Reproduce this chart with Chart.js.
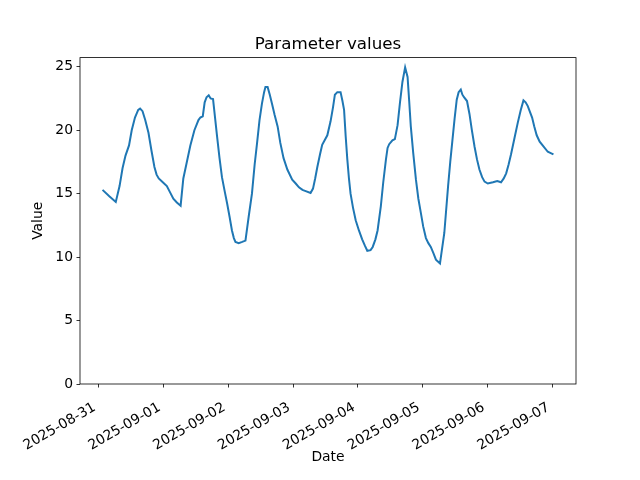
<!DOCTYPE html>
<html>
<head>
<meta charset="utf-8">
<script src="https://cdn.jsdelivr.net/npm/chart.js@4"></script>
<style>
  body { margin: 0; background: #fff; }
  canvas { display: block; }
</style>
</head>
<body>
<canvas id="chart" width="640" height="480"></canvas>
<script>
// hours since 2025-08-31 00:00
const hours = [
  1.5, 4.0, 6.4, 7.8, 8.9, 10.0, 11.3, 12.3, 13.5, 14.7, 15.4, 16.3, 17.3, 18.5, 19.6, 20.7,
  21.5, 22.3, 23.8, 25.3, 26.5, 27.7, 29.0, 30.4, 31.4, 32.7, 34.0, 35.5, 37.0, 37.7, 38.6, 39.3,
  40.0, 40.8, 41.5, 42.4, 43.9, 44.8, 45.7, 46.7, 47.6, 48.5, 49.4, 50.1, 50.7, 51.9, 53.2, 54.4,
  55.6, 56.8, 57.8, 58.7, 59.6, 60.5, 61.3, 61.8, 62.6, 63.4, 64.2, 65.2, 66.3, 67.3, 68.5, 69.9,
  71.7, 73.0, 74.2, 75.5, 76.7, 78.5, 79.4, 80.2, 81.0, 82.0, 82.8, 84.7, 85.9, 86.8, 87.5, 88.4,
  89.6, 90.3, 90.9, 91.5, 92.1, 92.7, 93.3, 94.2, 95.2, 96.4, 97.6, 98.6, 99.5, 100.7, 101.5, 102.5,
  103.3, 104.5, 105.4, 106.4, 107.0, 107.6, 108.8, 109.7, 110.7, 111.6, 112.5, 113.5, 114.4, 115.0, 115.6, 116.5,
  117.5, 118.4, 119.3, 120.2, 121.2, 122.1, 123.0, 124.0, 124.9, 126.4, 128.0, 129.4, 130.2, 131.0, 131.8, 132.6,
  133.3, 134.1, 134.7, 135.3, 136.4, 137.3, 138.2, 139.2, 140.1, 141.0, 142.0, 142.9, 144.1, 146.0, 147.6, 149.0,
  150.0, 150.9, 151.8, 152.7, 154.0, 155.2, 156.3, 157.3, 158.1, 158.9, 160.5, 161.3, 162.2, 163.3, 164.4, 166.3,
  167.4, 168.4
];
const values = [
  15.3, 14.8, 14.35, 15.6, 17.0, 18.0, 18.8, 20.0, 21.0, 21.6, 21.7, 21.5, 20.8, 19.8, 18.4, 17.1,
  16.5, 16.2, 15.9, 15.6, 15.1, 14.6, 14.3, 14.05, 16.2, 17.5, 18.8, 20.0, 20.8, 21.0, 21.1, 22.2,
  22.6, 22.75, 22.5, 22.45, 19.5, 17.8, 16.3, 15.2, 14.25, 13.2, 12.1, 11.5, 11.2, 11.1, 11.2, 11.3,
  13.2, 15.0, 17.3, 19.0, 20.8, 22.1, 23.0, 23.4, 23.4, 22.8, 22.1, 21.2, 20.3, 19.0, 17.8, 16.9,
  16.1, 15.8, 15.5, 15.3, 15.2, 15.05, 15.4, 16.2, 17.1, 18.1, 18.85, 19.6, 20.7, 21.8, 22.8, 23.0,
  23.0, 22.3, 21.6, 19.5, 17.7, 16.2, 15.0, 13.9, 12.9, 12.1, 11.4, 10.9, 10.5, 10.55, 10.8, 11.4,
  12.1, 14.0, 15.9, 17.7, 18.6, 18.9, 19.2, 19.3, 20.4, 22.2, 23.8, 24.95, 24.2, 22.3, 20.3, 18.2,
  16.1, 14.6, 13.5, 12.4, 11.5, 11.1, 10.8, 10.3, 9.8, 9.5, 11.9, 15.6, 17.5, 19.2, 20.9, 22.4,
  23.0, 23.2, 22.8, 22.6, 22.3, 21.3, 20.0, 18.7, 17.7, 16.9, 16.3, 15.95, 15.8, 15.9, 16.0, 15.9,
  16.2, 16.6, 17.3, 18.1, 19.4, 20.6, 21.6, 22.35, 22.2, 21.9, 21.0, 20.3, 19.6, 19.1, 18.8, 18.3,
  18.2, 18.1
];
const xTickHours = [0, 24, 48, 72, 96, 120, 144, 168];
const xTickLabels = ['2025-08-31', '2025-09-01', '2025-09-02', '2025-09-03',
                     '2025-09-04', '2025-09-05', '2025-09-06', '2025-09-07'];
const yTicks = [0, 5, 10, 15, 20, 25];

const FONT = 'DejaVu Sans';
Chart.defaults.color = '#000';
Chart.defaults.font.family = FONT;

// matplotlib-like 5% margins
const xSpan = hours[hours.length - 1] - hours[0];
const xMin = hours[0] - 0.05 * xSpan;
const xMax = hours[hours.length - 1] + 0.05 * xSpan;
const vMax = Math.max(...values), vMin = Math.min(...values);
const yMax = vMax + 0.05 * (vMax - vMin);

const frame = {
  id: 'frame',
  afterDraw(chart) {
    const {ctx, chartArea: a} = chart;
    ctx.save();
    ctx.strokeStyle = '#000';
    ctx.lineWidth = 0.8;
    ctx.strokeRect(a.left, a.top, a.right - a.left, a.bottom - a.top);
    ctx.fillStyle = '#000';
    ctx.font = '16.7px "' + FONT + '"';
    ctx.textAlign = 'center';
    ctx.textBaseline = 'alphabetic';
    ctx.fillText('Parameter values', (a.left + a.right) / 2, a.top - 8.3);
    ctx.restore();
  }
};

new Chart(document.getElementById('chart'), {
  type: 'line',
  data: {
    datasets: [{
      data: hours.map((h, i) => ({x: h, y: values[i]})),
      borderColor: '#1f77b4',
      borderWidth: 2,
      pointRadius: 0,
      tension: 0,
      fill: false
    }]
  },
  options: {
    responsive: false,
    animation: false,
    devicePixelRatio: 1,
    layout: { padding: { top: 57.6, right: 64, left: 0, bottom: 0 } },
    plugins: { legend: { display: false }, tooltip: { enabled: false } },
    scales: {
      x: {
        type: 'linear',
        min: xMin,
        max: xMax,
        afterBuildTicks: s => { s.ticks = xTickHours.map(v => ({value: v})); },
        afterFit: s => { s.height = 96; },
        grid: { display: true, drawOnChartArea: false, tickLength: 3.5, tickColor: '#000', tickWidth: 0.8 },
        border: { display: false },
        ticks: {
          autoSkip: false,
          maxRotation: 30,
          minRotation: 30,
          padding: 9.5,
          font: { size: 13.9 },
          // trailing space nudges the right-aligned rotated label like matplotlib's bbox anchor
          callback: v => xTickLabels[xTickHours.indexOf(v)] + ' '
        },
        title: { display: true, text: 'Date', font: { size: 13.9 }, padding: { top: 0, bottom: 14.7 } }
      },
      y: {
        min: 0,
        max: yMax,
        afterBuildTicks: s => { s.ticks = yTicks.map(v => ({value: v})); },
        afterFit: s => { s.width = 80; },
        grid: { display: true, drawOnChartArea: false, tickLength: 3.5, tickColor: '#000', tickWidth: 0.8 },
        border: { display: false },
        ticks: { padding: 3.5, font: { size: 13.9 } },
        title: { display: true, text: 'Value', font: { size: 13.9 }, padding: { top: 29.7, bottom: 0 } }
      }
    }
  },
  plugins: [frame]
});
</script>
</body>
</html>
